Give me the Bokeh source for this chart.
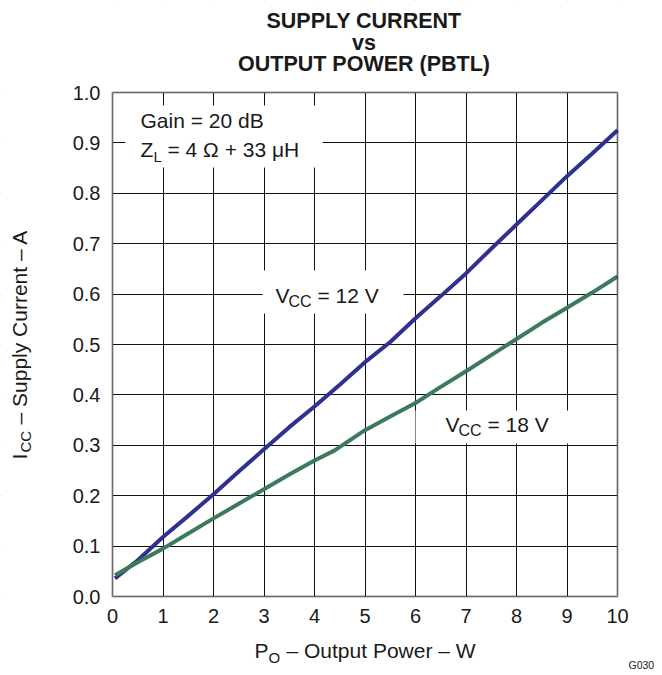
import math
from bokeh.plotting import figure
from bokeh.models import (Range1d, FixedTicker, NumeralTickFormatter, Label, BoxAnnotation,
                          LinearAxis, Grid)
from bokeh.embed import file_html
from bokeh.resources import INLINE

# ---- data ----
power_12v = [0.05, 0.5, 1.0, 1.5, 2.0, 2.5, 3.0, 3.5, 4.0, 4.5, 5.0, 5.5, 6.0, 6.5, 7.0, 7.5, 8.0, 8.5, 9.0, 9.5, 10.0]
icc_12v = [0.036, 0.072, 0.118, 0.160, 0.203, 0.248, 0.292, 0.336, 0.377, 0.420, 0.465, 0.505, 0.552, 0.596, 0.641, 0.690, 0.738, 0.786, 0.834, 0.879, 0.925]
power_18v = [0.05, 0.5, 1.0, 1.5, 2.0, 2.5, 3.0, 3.5, 4.0, 4.4, 5.0, 5.5, 6.0, 6.5, 7.0, 7.5, 8.0, 8.5, 9.0, 9.5, 10.0]
icc_18v = [0.042, 0.068, 0.095, 0.125, 0.155, 0.184, 0.213, 0.242, 0.270, 0.290, 0.330, 0.357, 0.384, 0.416, 0.447, 0.479, 0.511, 0.543, 0.573, 0.603, 0.635]
x_ticks = [0, 1, 2, 3, 4, 5, 6, 7, 8, 9, 10]
y_ticks = [0.0, 0.1, 0.2, 0.3, 0.4, 0.5, 0.6, 0.7, 0.8, 0.9, 1.0]
x_min, x_max = 0, 10
y_min, y_max = 0.0, 1.0

FONT = "Liberation Sans"
INK = "#1a1a1a"
BLUE = "#2e3192"
GREEN = "#3b7a5a"

# canvas size and where the plotting area sits on it (pixels)
W, H = 656, 673
L, R, T, B = 112, 617, 92, 596
SX = (R - L) / (x_max - x_min)
SY = (B - T) / (y_max - y_min)

def dx(px):
    return x_min + (px - L) / SX

def dy(py):
    return y_min + (B - py) / SY

p = figure(width=W, height=H, x_range=Range1d(dx(0), dx(W)), y_range=Range1d(dy(H), dy(0)),
           output_backend="svg", toolbar_location=None,
           x_axis_location=None, y_axis_location=None, min_border=0)
p.background_fill_color = "white"
p.border_fill_color = "white"
p.outline_line_color = None

# grid (library Grid models), then white margins hiding grid outside the plotting area
p.add_layout(Grid(dimension=0, ticker=FixedTicker(ticks=x_ticks), grid_line_color="#111111",
                  grid_line_width=1))
p.add_layout(Grid(dimension=1, ticker=FixedTicker(ticks=y_ticks), grid_line_color="#111111",
                  grid_line_width=1))
far_l, far_r, far_t, far_b = dx(-100), dx(W + 100), dy(-100), dy(H + 100)
for l, r, b, t in [(far_l, far_r, far_b, y_min), (far_l, far_r, y_max, far_t),
                   (far_l, x_min, far_b, far_t), (x_max, far_r, far_b, far_t)]:
    p.add_layout(BoxAnnotation(left=l, right=r, bottom=b, top=t, fill_color="white",
                               fill_alpha=1, line_color=None, level="underlay"))

# axes pinned to the plotting area's edges
xax = LinearAxis(fixed_location=y_min, ticker=FixedTicker(ticks=x_ticks), bounds=(x_min, x_max))
yax = LinearAxis(fixed_location=x_min, ticker=FixedTicker(ticks=y_ticks), bounds=(y_min, y_max),
                 formatter=NumeralTickFormatter(format="0.0"))
for ax in (xax, yax):
    ax.axis_line_color = None
    ax.major_tick_line_color = None
    ax.minor_tick_line_color = None
    ax.major_tick_out = 0
    ax.major_tick_in = 0
    ax.major_label_text_font = FONT
    ax.major_label_text_font_size = "20px"
    ax.major_label_text_color = INK
    ax.major_label_standoff = 12
p.add_layout(xax, "below")
p.add_layout(yax, "left")

p.line(power_12v, icc_12v, line_color=BLUE, line_width=4)
p.line(power_18v, icc_18v, line_color=GREEN, line_width=4)

# frame outline
p.add_layout(BoxAnnotation(left=x_min, right=x_max, bottom=y_min, top=y_max, fill_alpha=0,
                           line_color="#222222", line_width=2.5))

# white boxes behind the notes
for l, r, t, b in [(125, 322, 105, 167), (262, 403, 270, 313), (415, 582, 410, 443)]:
    p.add_layout(BoxAnnotation(left=dx(l), right=dx(r), top=dy(t), bottom=dy(b),
                               fill_color="white", fill_alpha=1, line_color=None))

def lab(text, px, py, size=21, align="left", bold=False, rotated=False):
    # px, py: where the text baseline should sit; Bokeh draws "alphabetic" about 0.4 em low
    shift = 0.4 * size
    if rotated:
        px -= shift
    else:
        py -= shift
    p.add_layout(Label(x=dx(px), y=dy(py), text=text, text_font=FONT,
                       text_font_size=f"{size}px", text_color=INK, text_align=align,
                       text_baseline="alphabetic", angle=math.pi / 2 if rotated else 0.0,
                       text_font_style="bold" if bold else "normal"))

# title
lab("SUPPLY CURRENT", 363.5, 29, size=21.5, align="center", bold=True)
lab("vs", 363.5, 51.5, size=21.5, align="center", bold=True)
lab("OUTPUT POWER (PBTL)", 363.5, 72.5, size=21.5, align="center", bold=True)

# in-plot notes
lab("Gain = 20 dB", 140, 128)
lab("Z", 140, 157)
lab("L", 153, 162, size=15)
lab("= 4 \u03a9 + 33 \u03bcH", 167, 157)

lab("V", 275, 303)
lab("CC", 288, 307, size=16)
lab("= 12 V", 317, 303)

lab("V", 445, 432)
lab("CC", 458, 436, size=16)
lab("= 18 V", 487, 432)

# x axis label
lab("P", 254, 658)
lab("O", 268, 663, size=15)
lab("\u2013 Output Power \u2013 W", 286, 658)

# y axis label (rotated)
lab("I", 27, 459, rotated=True)
lab("CC", 31, 452, size=15, rotated=True)
lab("\u2013 Supply Current \u2013 A", 27, 424, rotated=True)

# figure id
lab("G030", 628, 669, size=10.5)

open("out.html", "w").write(file_html(p, INLINE))
